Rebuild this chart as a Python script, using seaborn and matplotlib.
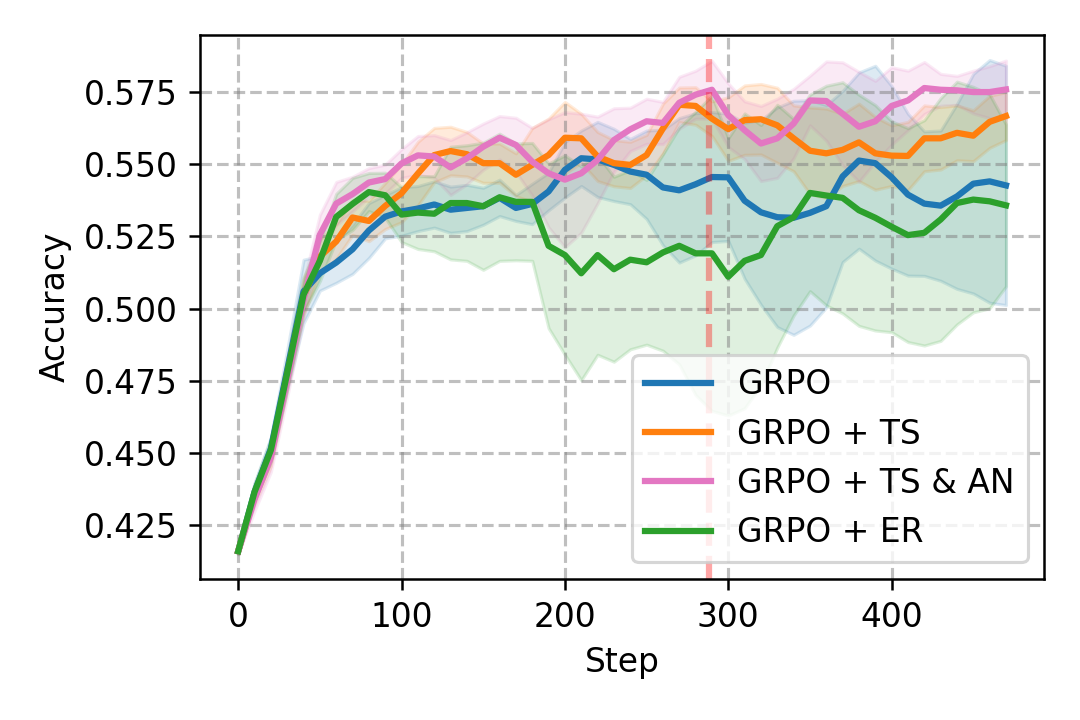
import numpy as np
import pandas as pd
import matplotlib
matplotlib.use("Agg")
import matplotlib.pyplot as plt
import seaborn as sns

# =====================================
# DATA
# =====================================
steps = list(range(0, 480, 10))

grpo_mean = [
    0.416, 0.4365, 0.4515, 0.4787, 0.5059, 0.5122, 0.5159, 0.5205, 0.527, 0.5318,
    0.5336, 0.5346, 0.536, 0.5342, 0.5348, 0.5354, 0.5383, 0.5348, 0.5362, 0.5405,
    0.548, 0.552, 0.5516, 0.5497, 0.5474, 0.5463, 0.5419, 0.5409, 0.543, 0.5455,
    0.5454, 0.5373, 0.5333, 0.5316, 0.5314, 0.5331, 0.5354, 0.5457, 0.5512, 0.5503,
    0.5454, 0.5394, 0.5363, 0.5356, 0.5388, 0.5432, 0.544, 0.5426,
]
grpo_std = [
    0.001, 0.003, 0.004, 0.007, 0.011, 0.006, 0.007, 0.0085, 0.0095, 0.0075,
    0.0084, 0.0078, 0.008, 0.008, 0.008, 0.0064, 0.0063, 0.0045, 0.007, 0.0065,
    0.0096, 0.0096, 0.013, 0.0125, 0.0113, 0.0153, 0.02, 0.025, 0.0246, 0.0225,
    0.022, 0.027, 0.032, 0.038, 0.0405, 0.039, 0.035, 0.0296, 0.0305, 0.0337,
    0.0316, 0.028, 0.025, 0.026, 0.032, 0.038, 0.042, 0.0414,
]

ts_mean = [
    0.416, 0.4355, 0.4495, 0.477, 0.504, 0.518, 0.5232, 0.5315, 0.5303, 0.5355,
    0.5399, 0.5467, 0.5531, 0.5545, 0.5534, 0.5503, 0.5503, 0.5463, 0.5497, 0.5531,
    0.5591, 0.5589, 0.5526, 0.5503, 0.5497, 0.5531, 0.5623, 0.5705, 0.5701, 0.5657,
    0.5621, 0.5652, 0.5655, 0.5634, 0.5589, 0.5546, 0.5537, 0.5549, 0.5575, 0.5537,
    0.5529, 0.5528, 0.5589, 0.5589, 0.5608, 0.5598, 0.5646, 0.5666,
]
ts_std = [
    0.001, 0.003, 0.004, 0.005, 0.006, 0.006, 0.006, 0.006, 0.007, 0.008,
    0.01, 0.011, 0.0094, 0.0084, 0.0077, 0.0068, 0.0068, 0.0074, 0.0128, 0.0126,
    0.0124, 0.0085, 0.0085, 0.008, 0.008, 0.007, 0.0086, 0.006, 0.0065, 0.006,
    0.011, 0.012, 0.0122, 0.013, 0.0114, 0.015, 0.0155, 0.0125, 0.0134, 0.0126,
    0.0105, 0.0118, 0.0114, 0.0108, 0.0095, 0.0088, 0.009, 0.0083,
]

ts_an_mean = [
    0.416, 0.434, 0.4485, 0.4754, 0.503, 0.5255, 0.5363, 0.5396, 0.5436, 0.5448,
    0.5502, 0.553, 0.5526, 0.5488, 0.552, 0.556, 0.5591, 0.5566, 0.5508, 0.5468,
    0.5446, 0.5468, 0.5514, 0.5583, 0.562, 0.5648, 0.5642, 0.5712, 0.574, 0.5757,
    0.5669, 0.5617, 0.5571, 0.5589, 0.564, 0.572, 0.5718, 0.5674, 0.5629, 0.5648,
    0.5701, 0.572, 0.5763, 0.5757, 0.5755, 0.5749, 0.5749, 0.5758,
]
ts_an_std = [
    0.001, 0.004, 0.005, 0.006, 0.006, 0.007, 0.0075, 0.006, 0.005, 0.005,
    0.005, 0.0067, 0.0074, 0.0095, 0.009, 0.008, 0.0075, 0.0094, 0.0117, 0.0187,
    0.0234, 0.0206, 0.015, 0.011, 0.0075, 0.0078, 0.0073, 0.009, 0.0083, 0.01,
    0.011, 0.01, 0.013, 0.0137, 0.012, 0.0086, 0.0137, 0.0178, 0.019, 0.014,
    0.0134, 0.0103, 0.009, 0.0055, 0.005, 0.0074, 0.009, 0.01,
]

er_mean = [
    0.416, 0.4365, 0.451, 0.4776, 0.5048, 0.5165, 0.5317, 0.5362, 0.5403, 0.5392,
    0.5325, 0.5332, 0.5328, 0.5365, 0.5365, 0.5354, 0.5385, 0.5369, 0.5369, 0.5217,
    0.5185, 0.5122, 0.5185, 0.5136, 0.5169, 0.516, 0.5194, 0.5217, 0.5191, 0.5191,
    0.511, 0.5165, 0.5185, 0.5285, 0.5316, 0.54, 0.5391, 0.5383, 0.534, 0.5314,
    0.5283, 0.5254, 0.5262, 0.5308, 0.5365, 0.5377, 0.5371, 0.5357,
]
er_std = [
    0.001, 0.003, 0.004, 0.005, 0.006, 0.007, 0.008, 0.009, 0.0066, 0.0078,
    0.0095, 0.0126, 0.013, 0.0195, 0.02, 0.022, 0.022, 0.0202, 0.0204, 0.0285,
    0.0345, 0.037, 0.0345, 0.032, 0.031, 0.0285, 0.034, 0.041, 0.049, 0.0545,
    0.048, 0.051, 0.045, 0.042, 0.034, 0.034, 0.038, 0.04, 0.04, 0.039,
    0.0365, 0.037, 0.039, 0.042, 0.042, 0.039, 0.037, 0.028,
]

labels = ["GRPO", "GRPO + TS", "GRPO + TS & AN", "GRPO + ER"]
colors = ["tab:blue", "tab:orange", "tab:pink", "tab:green"]
switch_step = 288

# =====================================
# PLOT
# =====================================
plt.rcParams["font.family"] = ["DejaVu Sans"]
plt.rcParams["font.size"] = 10.5

fig, ax = plt.subplots(figsize=(4.8, 3.2), dpi=225)
fig.subplots_adjust(left=0.185, right=0.967, bottom=0.196, top=0.951)

series = [
    (grpo_mean, grpo_std),
    (ts_mean, ts_std),
    (ts_an_mean, ts_an_std),
    (er_mean, er_std),
]

for (mean, std), label, color in zip(series, labels, colors):
    df = pd.DataFrame({"Step": steps, "Accuracy": mean})
    mean = np.array(mean)
    std = np.array(std)
    ax.fill_between(steps, mean - std, mean + std, color=color, alpha=0.15)
    sns.lineplot(data=df, x="Step", y="Accuracy", color=color,
                 linewidth=2, label=label, ax=ax)

ax.axvline(switch_step, color="red", linestyle="--", linewidth=2, alpha=0.35)

ax.grid(True, linestyle="--", color="gray", alpha=0.5, linewidth=1)
ax.set_xlabel("Step")
ax.set_ylabel("Accuracy")
ax.set_yticks([0.425, 0.45, 0.475, 0.5, 0.525, 0.55, 0.575])
ax.set_xticks([0, 100, 200, 300, 400])
ax.legend(loc="lower right")

fig.savefig("out.png", dpi=225)
